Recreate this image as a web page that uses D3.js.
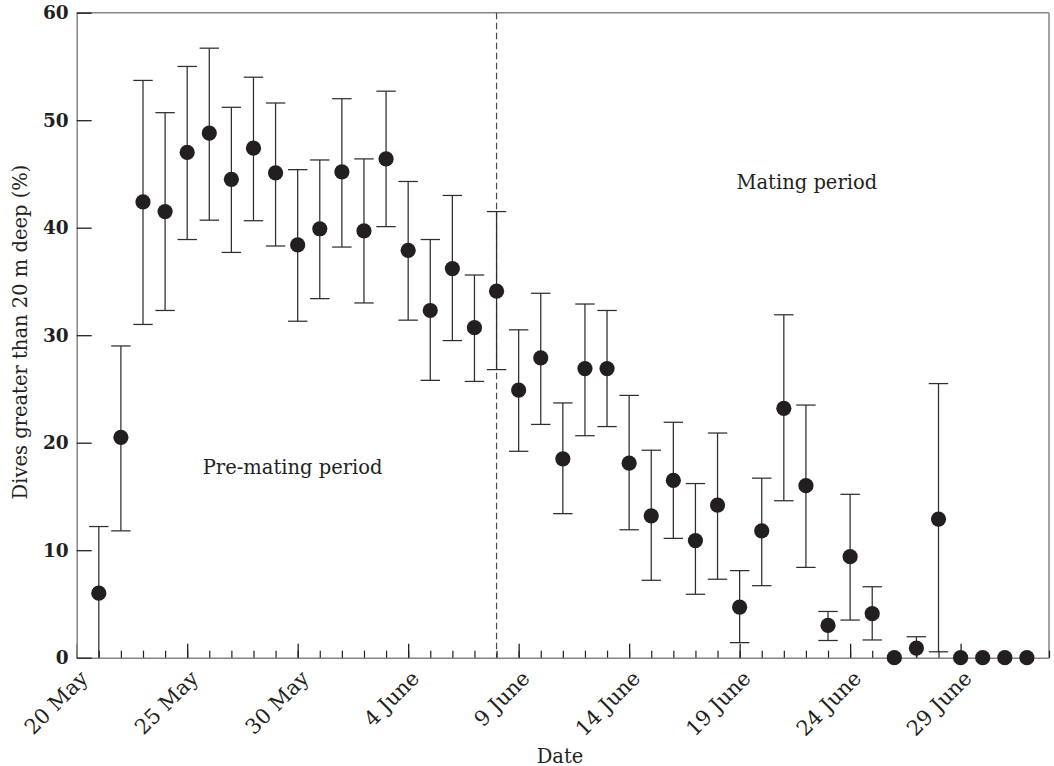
<!DOCTYPE html>
<html>
<head>
<meta charset="utf-8">
<script src="https://cdn.jsdelivr.net/npm/d3@7"></script>
<style>
  html, body { margin: 0; padding: 0; background: #ffffff; }
  svg { display: block; }
  text { font-family: "DejaVu Serif", serif; fill: #231f20; }
</style>
</head>
<body>
<svg id="chart" width="1054" height="766"></svg>
<script>
// Daily percentage of dives deeper than 20 m, with upper and lower bounds
const dates = [
  "05-21","05-22","05-23","05-24","05-25","05-26","05-27","05-28","05-29","05-30",
  "05-31","06-01","06-02","06-03","06-04","06-05","06-06","06-07","06-08","06-09",
  "06-10","06-11","06-12","06-13","06-14","06-15","06-16","06-17","06-18","06-19",
  "06-20","06-21","06-22","06-23","06-24","06-25","06-26","06-27","06-28","06-29",
  "06-30","07-01","07-02"
];
const meanPct = [
  6.0, 20.5, 42.4, 41.5, 47.0, 48.8, 44.5, 47.4, 45.1, 38.4,
  39.9, 45.2, 39.7, 46.4, 37.9, 32.3, 36.2, 30.7, 34.1, 24.9,
  27.9, 18.5, 26.9, 26.9, 18.1, 13.2, 16.5, 10.9, 14.2, 4.7,
  11.8, 23.2, 16.0, 3.0, 9.4, 4.1, 0, 0.9, 12.9, 0,
  0, 0, 0
];
const upperPct = [
  12.2, 29.0, 53.7, 50.7, 55.0, 56.7, 51.2, 54.0, 51.6, 45.4,
  46.3, 52.0, 46.4, 52.7, 44.3, 38.9, 43.0, 35.6, 41.5, 30.5,
  33.9, 23.7, 32.9, 32.3, 24.4, 19.3, 21.9, 16.2, 20.9, 8.1,
  16.7, 31.9, 23.5, 4.3, 15.2, 6.6, 0, 1.95, 25.5, 0,
  0, 0, 0
];
const lowerPct = [
  0, 11.8, 31.0, 32.3, 38.9, 40.7, 37.7, 40.65, 38.3, 31.3,
  33.4, 38.2, 33.0, 40.1, 31.4, 25.8, 29.5, 25.7, 26.8, 19.2,
  21.7, 13.4, 20.65, 21.5, 11.9, 7.2, 11.1, 5.9, 7.3, 1.4,
  6.7, 14.6, 8.4, 1.6, 3.5, 1.65, 0, 0, 0.55, 0,
  0, 0, 0
];

const yTicks = [0, 10, 20, 30, 40, 50, 60];
const xTickLabels = ["20 May", "25 May", "30 May", "4 June", "9 June", "14 June", "19 June", "24 June", "29 June"];
const xStart = "05-20", xEnd = "07-03";
const periodBoundary = "06-08";
// annotation text, centred on a date/time and a value on the y scale
const periodLabels = [
  { text: "Pre-mating period", center: "05-29T18:30", value: 17.1 },
  { text: "Mating period", center: "06-22T01:00", value: 43.6 }
];

const parse = d3.utcParse("%Y-%m-%d");
const toDate = s => parse("2000-" + s);
const parseStamp = d3.utcParse("%Y-%m-%dT%H:%M");
const toStamp = s => parseStamp("2000-" + s);
const parseLabel = d3.utcParse("%Y %d %B");
const labelDate = s => parseLabel("2000 " + s);

const rows = dates.map((d, i) => ({
  date: toDate(d), mean: meanPct[i], hi: upperPct[i], lo: lowerPct[i]
}));

const plotLeft = 76.7, plotRight = 1049, plotTop = 12.7, plotBottom = 657.7;

const x = d3.scaleUtc().domain([toDate(xStart), toDate(xEnd)]).range([plotLeft, plotRight]);
const y = d3.scaleLinear().domain([0, 60]).range([plotBottom, plotTop]);

const svg = d3.select("#chart");
const axisGrey = "#858585", ink = "#231f20";

// frame: top and right edges
svg.append("line").attr("x1", plotLeft).attr("x2", plotRight).attr("y1", plotTop).attr("y2", plotTop)
  .attr("stroke", axisGrey).attr("stroke-width", 1.5);
svg.append("line").attr("x1", plotRight).attr("x2", plotRight).attr("y1", plotTop).attr("y2", plotBottom)
  .attr("stroke", axisGrey).attr("stroke-width", 1.5);

// boundary between the two periods
svg.append("line")
  .attr("x1", x(toDate(periodBoundary))).attr("x2", x(toDate(periodBoundary)))
  .attr("y1", plotTop).attr("y2", plotBottom)
  .attr("stroke", "#4a4a4a").attr("stroke-width", 1.2)
  .attr("stroke-dasharray", "6.5,3.5");

// x axis: daily minor ticks, 5-day major ticks, all pointing inward
const dailyTicks = d3.utcDay.range(toDate(xStart), d3.utcDay.offset(toDate(xEnd), 1));
const gxMinor = svg.append("g").attr("transform", `translate(0,${plotBottom})`)
  .call(d3.axisBottom(x).tickValues(dailyTicks).tickSizeInner(-7).tickSizeOuter(0).tickFormat(""));
gxMinor.select(".domain").attr("stroke", axisGrey).attr("stroke-width", 1.5);
gxMinor.selectAll(".tick line").attr("stroke", ink).attr("stroke-width", 1.2);

const labelFmt = d3.utcFormat("%-d %B");
const gxMajor = svg.append("g").attr("transform", `translate(0,${plotBottom})`)
  .call(d3.axisBottom(x).tickValues(xTickLabels.map(labelDate)).tickSizeInner(-14).tickSizeOuter(0).tickFormat(labelFmt));
gxMajor.select(".domain").remove();
gxMajor.selectAll(".tick line").attr("stroke", ink).attr("stroke-width", 1.3);
gxMajor.selectAll(".tick text")
  .attr("y", 0).attr("dy", 0)
  .attr("text-anchor", "end")
  .attr("transform", "translate(12,22) rotate(-45)")
  .style("font-family", "'DejaVu Serif', serif")
  .style("font-size", "21px")
  .attr("fill", ink);

// y axis
const gy = svg.append("g").attr("transform", `translate(${plotLeft},0)`)
  .call(d3.axisLeft(y).tickValues(yTicks).tickSizeInner(-15).tickSizeOuter(0).tickPadding(8));
gy.select(".domain").attr("stroke", axisGrey).attr("stroke-width", 1.5);
gy.selectAll(".tick line").attr("stroke", ink).attr("stroke-width", 1.3);
gy.selectAll(".tick text")
  .style("font-family", "'DejaVu Serif', serif")
  .style("font-size", "18.5px")
  .style("font-weight", "bold")
  .attr("fill", ink);

// error bars
const capHalf = 9.7;
const bars = svg.append("g").attr("stroke", "#2e2e2e").attr("stroke-width", 1.25);
rows.filter(r => r.hi > r.lo).forEach(r => {
  const cx = x(r.date);
  bars.append("line").attr("x1", cx).attr("x2", cx).attr("y1", y(r.hi)).attr("y2", y(r.lo));
  [r.hi, r.lo].filter(v => v > 0).forEach(v => {
    bars.append("line").attr("x1", cx - capHalf).attr("x2", cx + capHalf)
      .attr("y1", y(v)).attr("y2", y(v));
  });
});

// daily means
svg.append("g").selectAll("circle").data(rows).join("circle")
  .attr("cx", d => x(d.date)).attr("cy", d => y(d.mean))
  .attr("r", 7.6).attr("fill", ink);

// period annotations
svg.selectAll(".period").data(periodLabels).join("text")
  .attr("class", "period")
  .attr("x", d => x(toStamp(d.center)))
  .attr("y", d => y(d.value))
  .attr("text-anchor", "middle")
  .style("font-size", "19.5px")
  .text(d => d.text);

// axis titles
svg.append("text")
  .attr("x", (plotLeft + plotRight) / 2 - 2.8).attr("y", 762.5)
  .attr("text-anchor", "middle").style("font-size", "19.5px")
  .text("Date");
svg.append("text")
  .attr("transform", "rotate(-90)")
  .attr("x", -332).attr("y", 27)
  .attr("text-anchor", "middle").style("font-size", "19.5px")
  .text("Dives greater than 20 m deep (%)");
</script>
</body>
</html>
